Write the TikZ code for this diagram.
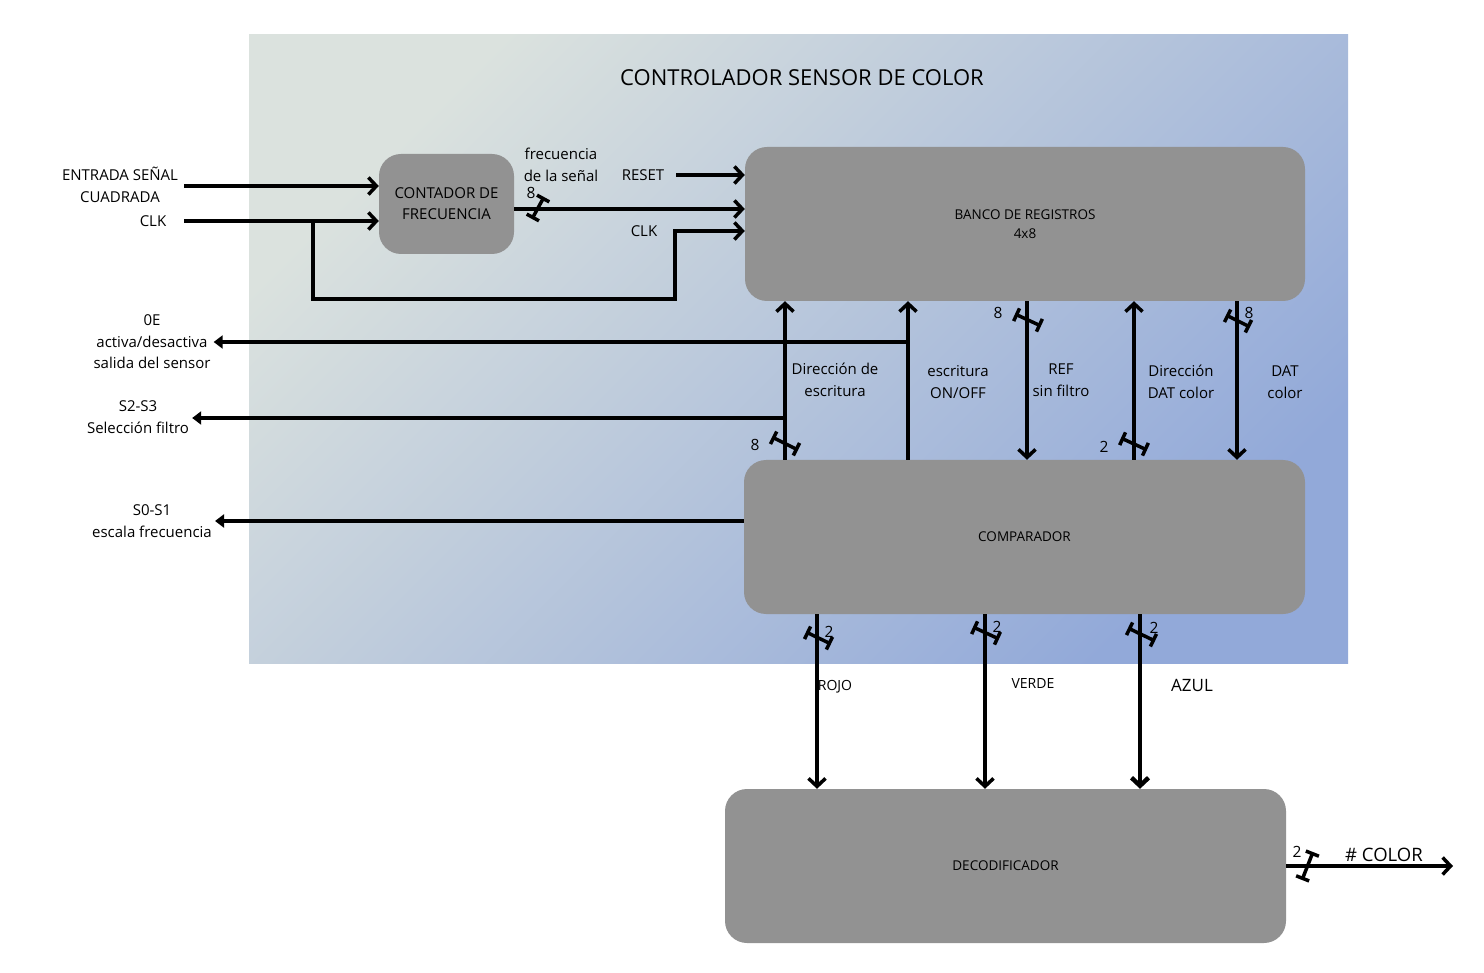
\documentclass[tikz,border=0pt]{standalone}
\usepackage{fontspec}
\setmainfont{Open Sans}
\usetikzlibrary{arrows.meta}
\definecolor{fondoA}{RGB}{219,226,222}
\definecolor{fondoB}{RGB}{146,169,217}
\definecolor{grisbloque}{RGB}{146,146,146}

\begin{document}
\begin{tikzpicture}[x=1pt,y=-1pt,
    bloque/.style={fill=grisbloque, rounded corners=22pt, inner sep=0pt, align=center,
      font=\fontsize{13.5}{19}\selectfont},
    txt/.style={align=center, font=\fontsize{15}{21.5}\selectfont, inner sep=3pt},
    num/.style={font=\fontsize{15.5}{17}\selectfont, inner sep=0pt},
    sig/.style={line width=3.5pt, -{Straight Barb[length=8pt,width=17pt]}},
    salida/.style={line width=3.5pt, -{Triangle[length=9pt,width=13pt]}},
    bus/.style={line width=3.5pt, {Bar[width=14pt]}-{Bar[width=14pt]}}]
  \useasboundingbox (0,0) rectangle (1484,973);
  \shade[left color=fondoA, right color=fondoB, shading angle=45] (249,35) rectangle (1348,663);
  \node (titulo) at (802,78) {\fontsize{22}{26}\selectfont CONTROLADOR SENSOR DE COLOR};

  % bloques
  \node[bloque, minimum width=135pt, minimum height=100pt, font=\fontsize{15}{21}\selectfont]
    (cont) at (446.5,204) {CONTADOR DE\\FRECUENCIA};
  \node[bloque, minimum width=560pt, minimum height=154pt] (banco) at (1025,224) {BANCO DE REGISTROS\\4x8};
  \node[bloque, minimum width=561pt, minimum height=154pt] (comp) at (1024.5,537) {COMPARADOR};
  \node[bloque, minimum width=561pt, minimum height=154pt] (deco) at (1005.5,866) {DECODIFICADOR};

  % etiquetas
  \node[txt] (lblent) at (120,185) {ENTRADA SEÑAL\\CUADRADA};
  \node[txt] (lblclk) at (153,221) {CLK};
  \node[txt] (lbloe) at (152,342) {0E\\activa/desactiva\\salida del sensor};
  \node[txt] (lbls23) at (138,417) {S2-S3\\Selección filtro};
  \node[txt] (lbls01) at (152,521) {S0-S1\\escala frecuencia};
  \node[txt] (lblfrec) at (561,165) {frecuencia\\de la señal};
  \node[txt] (lblreset) at (643,175) {RESET};
  \node[txt] (lblclk2) at (644,231) {CLK};
  \node[txt] (lbldir) at (835,380) {Dirección de\\escritura};
  \node[txt] (lblesc) at (958,382) {escritura\\ON/OFF};
  \node[txt] (lblref) at (1061,380) {REF\\sin filtro};
  \node[txt] (lbldirdat) at (1181,382) {Dirección\\DAT color};
  \node[txt] (lbldat) at (1285,382) {DAT\\color};
  \node[txt, font=\fontsize{14}{16}\selectfont] (lblrojo) at (835,687) {ROJO};
  \node[txt, font=\fontsize{14}{16}\selectfont] (lblverde) at (1033,684) {VERDE};
  \node[txt, font=\fontsize{17}{20}\selectfont] (lblazul) at (1192,685) {AZUL};
  \node[txt, font=\fontsize{18.5}{20}\selectfont] (lblcolor) at (1384,855) {\# COLOR};

  \node[num] (n8a) at (531,193) {8};
  \node[num] (n8b) at (755,445) {8};
  \node[num] (n8c) at (998,313) {8};
  \node[num] (n2a) at (1104,447) {2};
  \node[num] (n8d) at (1249,313) {8};
  \node[num] (n2b) at (829,632) {2};
  \node[num] (n2c) at (997,627) {2};
  \node[num] (n2d) at (1154,628) {2};
  \node[num] (n2e) at (1297,852) {2};

  % puntos de union
  \coordinate (in1) at (184,186);
  \coordinate (in2) at (184,221);
  \coordinate (clkb) at (313,221);
  \coordinate (clkc) at (675,299);
  \coordinate (frq) at (514,209);
  \coordinate (rst) at (676,175);
  \coordinate (xdir) at (785,418);
  \coordinate (xesc) at (908,342);
  \coordinate (xref) at (1027,380);
  \coordinate (xdat) at (1134,380);
  \coordinate (xdatc) at (1237,380);
  \coordinate (xr) at (817,700);
  \coordinate (xv) at (985,700);
  \coordinate (xa) at (1140,700);
  \coordinate (colout) at (1453,866);

  % conexiones
  \draw[sig] (in1) -- (cont.west |- in1);
  \draw[sig] (in2) -- (cont.west |- in2);
  \draw[sig] (clkb) |- (clkc) |- (banco.west |- lblclk2);
  \draw[sig] (rst) -- (banco.west |- rst);
  \draw[sig] (frq) -- (banco.west |- frq);
  \draw[sig] (comp.north -| xdir) -- (banco.south -| xdir);
  \draw[salida] (xdir) -- (lbls23.east |- xdir);
  \draw[sig] (comp.north -| xesc) -- (banco.south -| xesc);
  \draw[salida] (xesc) -- (lbloe.east |- xesc);
  \draw[salida] (comp.west |- lbls01) -- (lbls01.east);
  \draw[sig] (banco.south -| xref) -- (comp.north -| xref);
  \draw[sig] (comp.north -| xdat) -- (banco.south -| xdat);
  \draw[sig] (banco.south -| xdatc) -- (comp.north -| xdatc);
  \draw[sig] (comp.south -| xr) -- (deco.north -| xr);
  \draw[sig] (comp.south -| xv) -- (deco.north -| xv);
  \draw[sig, line width=4.5pt] (comp.south -| xa) -- (deco.north -| xa);
  \draw[sig] (deco.east |- colout) -- (colout);

  % buses
  \draw[bus] (544,197) -- (532,219);
  \draw[bus] (772,437) -- (798,450);
  \draw[bus] (1015,314) -- (1041,326);
  \draw[bus] (1121,438) -- (1147,450);
  \draw[bus] (1226,315) -- (1250,327);
  \draw[bus] (806,632) -- (831,644);
  \draw[bus] (973,627) -- (999,639);
  \draw[bus] (1128,628) -- (1155,641);
  \draw[bus] (1313,852) -- (1302,880);
\end{tikzpicture}
\end{document}
